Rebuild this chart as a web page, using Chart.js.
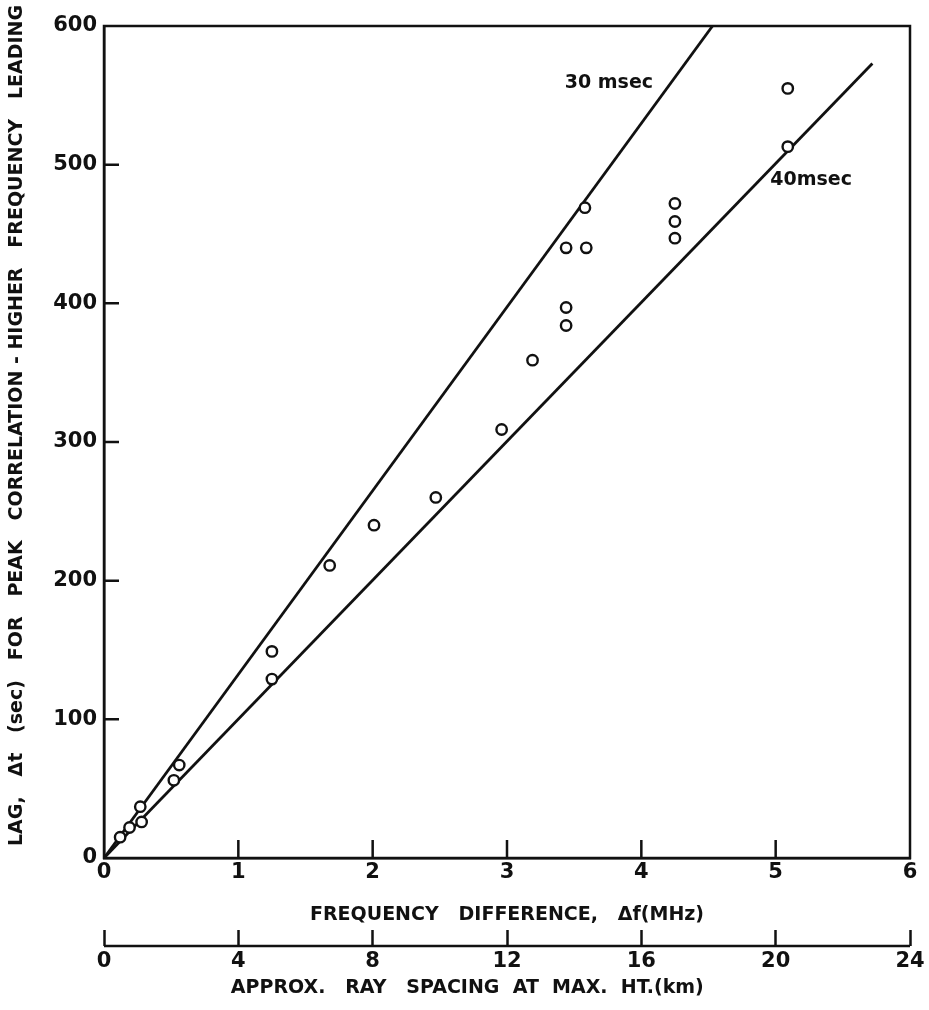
<!DOCTYPE html>
<html>
<head>
<meta charset="utf-8">
<script src="https://cdn.jsdelivr.net/npm/chart.js@4/dist/chart.umd.min.js"></script>
<style>
  html, body { margin: 0; padding: 0; background: #fff; }
  #wrap { width: 929px; height: 1010px; position: relative; }
</style>
</head>
<body>
<div id="wrap"><canvas id="lagChart"></canvas></div>
<script>
// =========================
// Data
// =========================
const freqDiffMHz = [0.12, 0.19, 0.28, 0.27, 0.52, 0.56, 1.25, 1.25, 1.68, 2.01, 2.47, 2.96, 3.19, 3.44, 3.44, 3.44, 3.59, 3.58, 4.25, 4.25, 4.25, 5.09, 5.09];
const lagSec = [15, 22, 26, 37, 56, 67, 129, 149, 211, 240, 260, 309, 359, 384, 397, 440, 440, 469, 447, 459, 472, 513, 555];

// reference lines (30 msec and 40 msec)
const line30X = [0, 4.53];
const line30Y = [0, 600];
const line40X = [0, 5.72];
const line40Y = [0, 573];

// axes
const mhzTicks = [0, 1, 2, 3, 4, 5, 6];
const kmTicks = [0, 4, 8, 12, 16, 20, 24];
const lagTicks = [0, 100, 200, 300, 400, 500, 600];

const FONT = "'DejaVu Sans', sans-serif";
const INK = "#111";

const toPoints = (xs, ys) => xs.map((x, i) => ({ x: x, y: ys[i] }));

// =========================
// Frame, inward ticks, km axis base line, line labels
// =========================
const framePlugin = {
  id: "framePlugin",
  afterDraw(chart) {
    const { ctx, chartArea: a, scales } = chart;
    ctx.save();
    ctx.strokeStyle = INK;
    ctx.lineWidth = 2.5;
    ctx.strokeRect(a.left, a.top, a.right - a.left, a.bottom - a.top);

    // inward tick marks on the main axes
    ctx.beginPath();
    mhzTicks.slice(1, -1).forEach((v) => {
      const px = scales.x.getPixelForValue(v);
      ctx.moveTo(px, a.bottom);
      ctx.lineTo(px, a.bottom - 18);
    });
    lagTicks.slice(1, -1).forEach((v) => {
      const py = scales.y.getPixelForValue(v);
      ctx.moveTo(a.left, py);
      ctx.lineTo(a.left + 15, py);
    });
    ctx.stroke();

    // base line of the km axis (its ticks stand on it)
    const s2 = scales.x2;
    const baseY = s2.top + s2.options.grid.tickLength;
    ctx.beginPath();
    ctx.moveTo(s2.left, baseY);
    ctx.lineTo(s2.right, baseY);
    ctx.stroke();

    // line labels
    ctx.fillStyle = INK;
    ctx.font = "bold 19px " + FONT;
    ctx.textBaseline = "middle";
    ctx.textAlign = "left";
    ctx.fillText("30 msec", scales.x.getPixelForValue(3.43), scales.y.getPixelForValue(559));
    ctx.fillText("40msec", scales.x.getPixelForValue(4.96), scales.y.getPixelForValue(489));
    ctx.restore();
  },
};

const tickFont = { family: FONT, size: 21, weight: "bold" };
const titleFont = { family: FONT, size: 19, weight: "bold" };

new Chart(document.getElementById("lagChart"), {
  type: "scatter",
  data: {
    datasets: [
      {
        label: "observed",
        data: toPoints(freqDiffMHz, lagSec),
        pointStyle: "circle",
        pointRadius: 5.2,
        pointBackgroundColor: "#fff",
        pointBorderColor: INK,
        pointBorderWidth: 2.4,
        showLine: false,
        order: 0,
      },
      {
        label: "30 msec",
        data: toPoints(line30X, line30Y),
        showLine: true,
        borderColor: INK,
        borderWidth: 2.8,
        pointRadius: 0,
        order: 1,
      },
      {
        label: "40 msec",
        data: toPoints(line40X, line40Y),
        showLine: true,
        borderColor: INK,
        borderWidth: 2.8,
        pointRadius: 0,
        order: 1,
      },
    ],
  },
  options: {
    responsive: true,
    maintainAspectRatio: false,
    animation: false,
    layout: { padding: { top: 26, right: 19, bottom: 8, left: 0 } },
    plugins: {
      legend: { display: false },
      tooltip: { enabled: false },
    },
    scales: {
      x: {
        type: "linear",
        position: "bottom",
        weight: 0,
        min: 0,
        max: 6,
        ticks: { stepSize: 1, color: INK, font: tickFont, padding: 2, maxRotation: 0 },
        grid: { drawOnChartArea: false, drawTicks: false },
        border: { display: true, color: INK, width: 2.5 },
        title: {
          display: true,
          text: "FREQUENCY   DIFFERENCE,   \u0394f(MHz)",
          color: INK,
          font: titleFont,
          padding: { top: 0, bottom: 4 },
        },
        afterFit: (s) => { s.height = 72; },
      },
      x2: {
        type: "linear",
        position: "bottom",
        weight: 1,
        min: 0,
        max: 24,
        ticks: { stepSize: 4, color: INK, font: tickFont, padding: 3, maxRotation: 0 },
        grid: { drawOnChartArea: false, drawTicks: true, tickLength: 16, tickWidth: 2.5, tickColor: INK },
        border: { display: false },
        title: {
          display: true,
          // trailing spaces pull the centred title left, as in the original
          text: "APPROX.   RAY   SPACING  AT  MAX.  HT.(km)            ",
          color: INK,
          font: titleFont,
          padding: { top: 0, bottom: 3 },
        },
        afterFit: (s) => { s.height = 72; },
      },
      y: {
        type: "linear",
        min: 0,
        max: 600,
        ticks: { stepSize: 100, color: INK, font: tickFont, padding: 7 },
        grid: { drawOnChartArea: false, drawTicks: false },
        border: { display: true, color: INK, width: 2.5 },
        title: {
          display: true,
          // leading spaces push the rotated title upward a little
          text: "     LAG,   \u0394t   (sec)   FOR   PEAK   CORRELATION - HIGHER   FREQUENCY   LEADING",
          color: INK,
          font: titleFont,
          padding: { top: 6, bottom: 0 },
        },
        afterFit: (s) => { s.width = 104; },
      },
    },
  },
  plugins: [framePlugin],
});
</script>
</body>
</html>
